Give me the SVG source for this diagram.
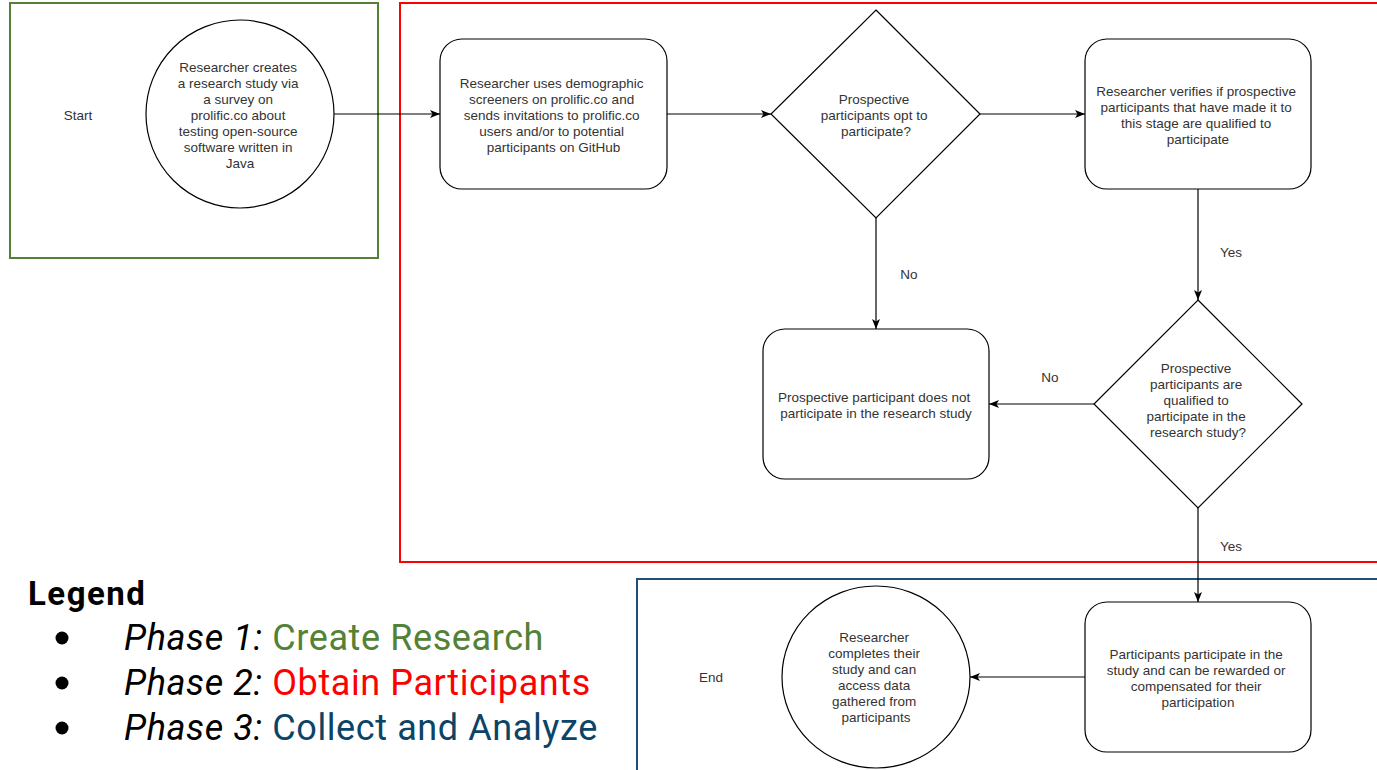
<svg xmlns="http://www.w3.org/2000/svg" width="1377" height="770" viewBox="0 0 1377 770">
<style>
  .node { fill: #ffffff; stroke: #000000; stroke-width: 1.2; }
  .t { font-family: "Liberation Sans", Arial, sans-serif; font-size: 13.5px; fill: #333333; text-anchor: middle; }
  .conn { fill: none; stroke: #000000; stroke-width: 1.2; marker-end: url(#arr); }
  .lg { font-family: Roboto, "Liberation Sans", sans-serif; font-size: 36px; letter-spacing: 0.6px; }
</style>
<defs>
  <marker id="arr" viewBox="0 0 10 8" refX="10" refY="4" markerWidth="10" markerHeight="8" markerUnits="userSpaceOnUse" orient="auto">
    <path d="M0,0 L10,4 L0,8 L2.5,4 z" fill="#000000"/>
  </marker>
</defs>
<rect width="1377" height="770" fill="#ffffff"/>

<g id="phases">
  <rect x="10" y="3" width="368" height="255" fill="none" stroke="#538135" stroke-width="2"/>
  <rect x="400" y="3" width="990" height="559" fill="none" stroke="#ff0000" stroke-width="2"/>
  <rect x="637" y="579" width="760" height="210" fill="none" stroke="#1f4e79" stroke-width="2"/>
</g>

<g id="start-label"><text class="t" x="78" y="119.5">Start</text></g>
<g id="end-label"><text class="t" x="711" y="681.5">End</text></g>

<g id="n-create">
  <circle class="node" cx="240" cy="114" r="94"/>
  <text class="t" y="71.5">
    <tspan x="240">Researcher creates</tspan>
    <tspan x="240" dy="16">a research study via</tspan>
    <tspan x="240" dy="16">a survey on</tspan>
    <tspan x="240" dy="16">prolific.co about</tspan>
    <tspan x="240" dy="16">testing open-source</tspan>
    <tspan x="240" dy="16">software written in</tspan>
    <tspan x="240" dy="16">Java</tspan>
  </text>
</g>

<g id="n-screen">
  <rect class="node" x="440" y="39" width="227" height="150" rx="22"/>
  <text class="t" y="87.5">
    <tspan x="553.5">Researcher uses demographic</tspan>
    <tspan x="553.5" dy="16">screeners on prolific.co and</tspan>
    <tspan x="553.5" dy="16">sends invitations to prolific.co</tspan>
    <tspan x="553.5" dy="16">users and/or to potential</tspan>
    <tspan x="553.5" dy="16">participants on GitHub</tspan>
  </text>
</g>

<g id="n-opt">
  <polygon class="node" points="876,10 980,114 876,218 771,114"/>
  <text class="t" y="103.5">
    <tspan x="876">Prospective</tspan>
    <tspan x="876" dy="16">participants opt to</tspan>
    <tspan x="876" dy="16">participate?</tspan>
  </text>
</g>

<g id="n-verify">
  <rect class="node" x="1085" y="39" width="226" height="150" rx="22"/>
  <text class="t" y="95.5">
    <tspan x="1198">Researcher verifies if prospective</tspan>
    <tspan x="1198" dy="16">participants that have made it to</tspan>
    <tspan x="1198" dy="16">this stage are qualified to</tspan>
    <tspan x="1198" dy="16">participate</tspan>
  </text>
</g>

<g id="n-qualified">
  <polygon class="node" points="1198,300 1302,404 1198,508 1094,404"/>
  <text class="t" y="372.5">
    <tspan x="1198">Prospective</tspan>
    <tspan x="1198" dy="16">participants are</tspan>
    <tspan x="1198" dy="16">qualified to</tspan>
    <tspan x="1198" dy="16">participate in the</tspan>
    <tspan x="1198" dy="16">research study?</tspan>
  </text>
</g>

<g id="n-notparticipate">
  <rect class="node" x="763" y="329" width="226" height="150" rx="22"/>
  <text class="t" y="401.5">
    <tspan x="876">Prospective participant does not</tspan>
    <tspan x="876" dy="16">participate in the research study</tspan>
  </text>
</g>

<g id="n-participate">
  <rect class="node" x="1085" y="602" width="226" height="150" rx="22"/>
  <text class="t" y="658.5">
    <tspan x="1198">Participants participate in the</tspan>
    <tspan x="1198" dy="16">study and can be rewarded or</tspan>
    <tspan x="1198" dy="16">compensated for their</tspan>
    <tspan x="1198" dy="16">participation</tspan>
  </text>
</g>

<g id="n-complete">
  <ellipse class="node" cx="876" cy="677" rx="94" ry="91"/>
  <text class="t" y="641.5">
    <tspan x="876">Researcher</tspan>
    <tspan x="876" dy="16">completes their</tspan>
    <tspan x="876" dy="16">study and can</tspan>
    <tspan x="876" dy="16">access data</tspan>
    <tspan x="876" dy="16">gathered from</tspan>
    <tspan x="876" dy="16">participants</tspan>
  </text>
</g>

<g id="connectors">
  <line class="conn" x1="334" y1="114" x2="440" y2="114"/>
  <line class="conn" x1="667" y1="114" x2="771" y2="114"/>
  <line class="conn" x1="980" y1="114" x2="1085" y2="114"/>
  <line class="conn" x1="876" y1="218" x2="876" y2="329"/>
  <line class="conn" x1="1198" y1="189" x2="1198" y2="300"/>
  <line class="conn" x1="1094" y1="404" x2="989" y2="404"/>
  <line class="conn" x1="1198" y1="508" x2="1198" y2="602"/>
  <line class="conn" x1="1085" y1="677" x2="970" y2="677"/>
  <text class="t" x="909" y="278.5">No</text>
  <text class="t" x="1231" y="256.5">Yes</text>
  <text class="t" x="1050" y="381.5">No</text>
  <text class="t" x="1231" y="550.5">Yes</text>
</g>

<g id="legend">
  <text x="28" y="605" font-family="Roboto, 'Liberation Sans', sans-serif" font-size="33" font-weight="bold" letter-spacing="1.5" fill="#000000">Legend</text>
  <circle cx="62" cy="638" r="6.5" fill="#000000"/>
  <circle cx="62" cy="683" r="6.5" fill="#000000"/>
  <circle cx="62" cy="728" r="6.5" fill="#000000"/>
  <text class="lg" x="124" y="650"><tspan font-style="italic" fill="#000000">Phase 1:</tspan><tspan fill="#538135"> Create Research</tspan></text>
  <text class="lg" x="124" y="695"><tspan font-style="italic" fill="#000000">Phase 2:</tspan><tspan fill="#ff0000"> Obtain Participants</tspan></text>
  <text class="lg" x="124" y="740"><tspan font-style="italic" fill="#000000">Phase 3:</tspan><tspan fill="#0b4466"> Collect and Analyze</tspan></text>
</g>
</svg>
